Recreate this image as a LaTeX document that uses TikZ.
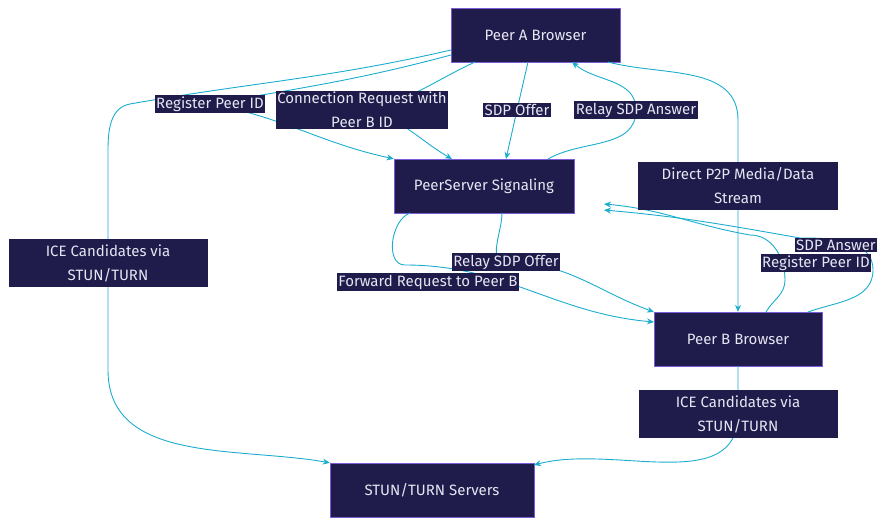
\documentclass[tikz,border=0pt]{standalone}
\usepackage{fontspec}
\setmainfont{Fira Sans}
\usetikzlibrary{arrows.meta}
\definecolor{nb}{HTML}{1F1B4B}
\definecolor{nbd}{HTML}{7B5CD6}
\definecolor{ln}{HTML}{1BADCE}
\definecolor{tx}{HTML}{E6E6F2}
\begin{document}
\begin{tikzpicture}[x=1pt,y=-1pt,
 box/.style={draw=nbd,fill=nb,text=tx,font=\fontsize{15}{24}\selectfont,inner sep=0,minimum height=54},
 lab/.style={fill=nb,text=tx,font=\fontsize{15}{24}\selectfont,align=center,inner sep=1.5pt},
 e/.style={draw=ln,line width=0.9pt,-{Stealth[length=7pt,width=6pt]}}]
\useasboundingbox (0,0) rectangle (887,526);
\node[box,minimum width=169] (A) at (535.5,35) {Peer A Browser};
\node[box,minimum width=180] (S) at (484,186) {PeerServer Signaling};
\node[box,minimum width=168] (B) at (738,339) {Peer B Browser};
\node[box,minimum width=204] (T) at (432,490) {STUN/TURN Servers};
\coordinate (l1) at (210,104);
\coordinate (l2) at (362,110);
\coordinate (l3) at (517,110);
\coordinate (l4) at (636,110);
\coordinate (l5) at (738,186);
\coordinate (l6) at (108,263);
\coordinate (l7) at (428,282);
\coordinate (l8) at (506,262);
\coordinate (l9) at (816,263);
\coordinate (l10) at (836,245);
\coordinate (l11) at (738,414);
\draw[e] (451,50) to[out=193,in=10] (130,104) to[out=190,in=90] (108,150) -- (l6) -- (108,370) to[out=-90,in=170] (T.north west);
\draw[e] (451,55) to[out=195,in=10] (l1) to[out=-10,in=168] (S.north west);
\draw[e] (475,62) to[out=205,in=10] (l2) to[out=-10,in=150] (452,159);
\draw[e] (528,62) -- (l3) -- (506,159);
\draw[e] (548,159) to[out=30,in=-90] (l4) to[out=90,in=-40] (572,62);
\draw[e] (608,62) to[out=-15,in=90] (738,120) -- (l5) -- (B.north);
\draw[e] (410,213) to[out=200,in=180] (405,265) to[out=0,in=175] (654,322);
\draw[e] (502,213) to[out=-90,in=180] (l8) to[out=0,in=160] (654,312);
\draw[e] (766,312) to[out=60,in=-90] (785,280) to[out=90,in=0] (750,235) to[out=170,in=-5] (604,204);
\draw[e] (808,312) to[out=20,in=-90] (873,270) to[out=90,in=0] (800,238) to[out=170,in=-5] (604,210);
\draw[e] (B.south) -- (l11) to[out=-90,in=15] (534,465);
\node[lab] at (l1) {Register Peer ID};
\node[lab] at (l2) {Connection Request with\\Peer B ID};
\node[lab] at (l3) {SDP Offer};
\node[lab] at (l4) {Relay SDP Answer};
\node[lab,minimum width=200,minimum height=48] at (l5) {Direct P2P Media/Data\\Stream};
\node[lab,minimum width=199,minimum height=48] at (l6) {ICE Candidates via\\STUN/TURN};
\node[lab] at (l10) {SDP Answer};
\node[lab] at (l9) {Register Peer ID};
\node[lab] at (l8) {Relay SDP Offer};
\node[lab] at (l7) {Forward Request to Peer B};
\node[lab,minimum width=199,minimum height=48] at (l11) {ICE Candidates via\\STUN/TURN};
\end{tikzpicture}
\end{document}
